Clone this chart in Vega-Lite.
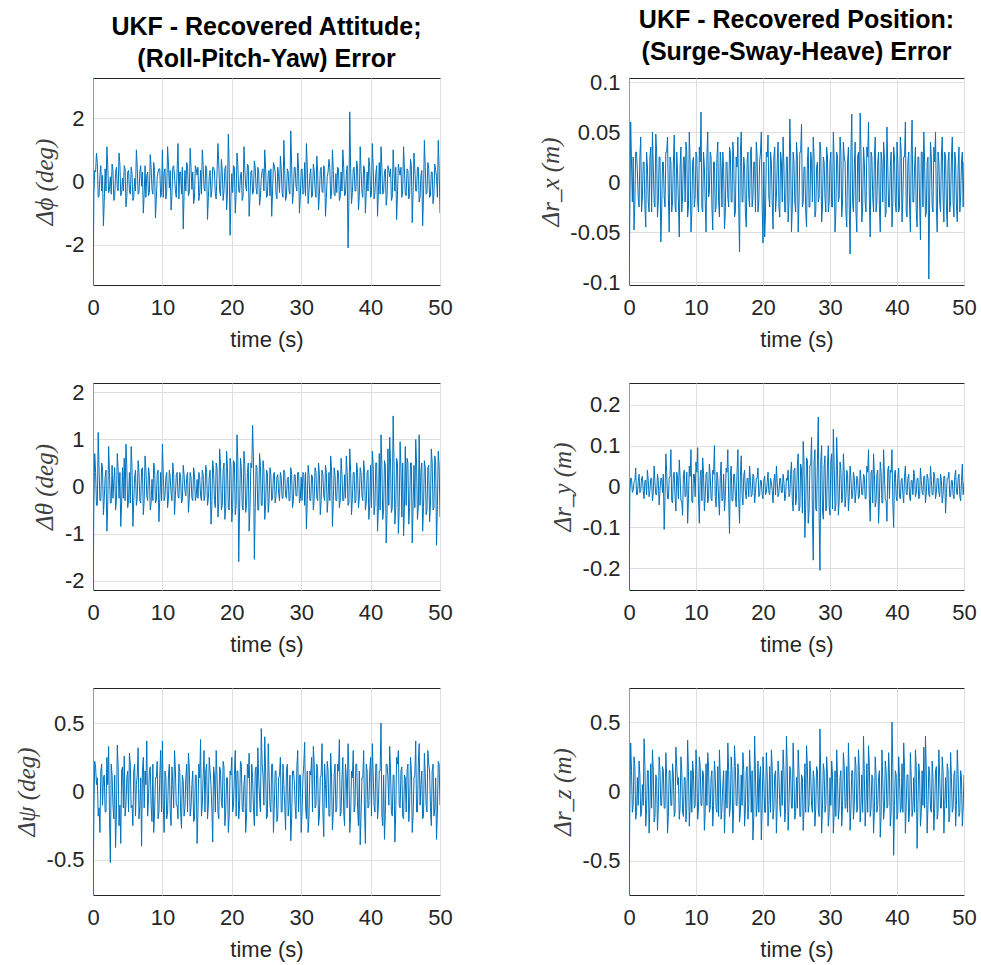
{
"$schema":"https://vega.github.io/schema/vega-lite/v6.json",
"background":"white",
"padding":{"left":13,"top":7,"right":5,"bottom":5},
"data":{"values":[
{"t":0,"a":3.27,"b":2.2,"c":0.757,"d":0.104,"e":0.253,"f":0.746},
{"t":0.03,"a":-3.27,"b":-2.2,"c":-0.757,"d":-0.103,"e":-0.253,"f":-0.746},
{"t":0.125,"a":-0.4,"b":-0.35,"c":-0.15,"d":-0.03,"e":-0.015,"f":-0.12},
{"t":0.25,"a":0.35,"b":0.7,"c":0.22,"d":0.06,"e":0.02,"f":0.35},
{"t":0.375,"a":0.3,"b":0.3,"c":0.18,"d":0.02,"e":0.02,"f":0.15},
{"t":0.5,"a":0.9,"b":-0.4,"c":0.05,"d":-0.02,"e":-0.015,"f":-0.15},
{"t":0.625,"a":0.6,"b":-0.4,"c":0.1,"d":0.025,"e":-0.01,"f":-0.1},
{"t":0.75,"a":-0.5,"b":1.15,"c":-0.18,"d":-0.048,"e":0.01,"f":0.25},
{"t":0.875,"a":-0.45,"b":0.35,"c":-0.12,"d":-0.02,"e":0.015,"f":0.18},
{"t":1.0,"a":0.2,"b":-0.3,"c":-0.3,"d":0.03,"e":0.045,"f":-0.2},
{"t":1.125,"a":0.5,"b":-0.3,"c":0.15,"d":0.03,"e":-0.02,"f":-0.15},
{"t":1.25,"a":-0.3,"b":0.5,"c":0.2,"d":0.01,"e":-0.02,"f":0.1},
{"t":1.375,"a":0.2,"b":0.4,"c":-0.1,"d":-0.015,"e":0.01,"f":-0.1},
{"t":1.5,"a":-1.4,"b":-0.6,"c":0.1,"d":-0.025,"e":0.03,"f":0.22},
{"t":1.625,"a":-0.6,"b":-0.25,"c":0.12,"d":0.025,"e":-0.015,"f":0.12},
{"t":1.75,"a":0.4,"b":0.2,"c":-0.15,"d":0.045,"e":-0.01,"f":-0.18},
{"t":1.875,"a":-0.3,"b":0.35,"c":-0.15,"d":-0.03,"e":0.02,"f":-0.15},
{"t":2.0,"a":1.1,"b":-0.95,"c":0.25,"d":-0.015,"e":0.025,"f":0.05},
{"t":2.125,"a":0.5,"b":-0.4,"c":0.05,"d":0.02,"e":-0.01,"f":-0.1},
{"t":2.25,"a":-0.35,"b":0.85,"c":0.33,"d":0.02,"e":-0.03,"f":0.38},
{"t":2.375,"a":-0.25,"b":0.3,"c":-0.18,"d":-0.025,"e":0.015,"f":0.18},
{"t":2.5,"a":0.15,"b":-0.35,"c":-0.52,"d":-0.045,"e":0.015,"f":-0.25},
{"t":2.625,"a":-0.4,"b":-0.35,"c":0.2,"d":0.03,"e":-0.02,"f":-0.12},
{"t":2.75,"a":0.55,"b":0.45,"c":0.12,"d":0.015,"e":0.04,"f":0.15},
{"t":2.875,"a":0.35,"b":-0.25,"c":-0.1,"d":-0.02,"e":0.015,"f":0.15},
{"t":3.0,"a":-0.6,"b":0.1,"c":-0.2,"d":-0.03,"e":-0.025,"f":-0.3},
{"t":3.125,"a":-0.5,"b":0.4,"c":0.12,"d":0.025,"e":-0.01,"f":-0.1},
{"t":3.25,"a":0.25,"b":-0.5,"c":-0.41,"d":0.035,"e":0.02,"f":0.2},
{"t":3.375,"a":0.45,"b":-0.3,"c":-0.15,"d":-0.03,"e":0.02,"f":-0.12},
{"t":3.5,"a":-0.2,"b":0.7,"c":0.34,"d":0.05,"e":-0.035,"f":0.3},
{"t":3.625,"a":-0.3,"b":0.35,"c":0.18,"d":0.015,"e":-0.015,"f":0.15},
{"t":3.75,"a":0.9,"b":-0.25,"c":-0.25,"d":-0.02,"e":0.05,"f":-0.22},
{"t":3.875,"a":0.55,"b":0.3,"c":-0.1,"d":-0.025,"e":0.01,"f":-0.18},
{"t":4.0,"a":-0.45,"b":-0.85,"c":-0.38,"d":0.048,"e":-0.02,"f":0.12},
{"t":4.125,"a":-0.35,"b":-0.35,"c":0.15,"d":0.03,"e":-0.02,"f":0.1},
{"t":4.25,"a":0.1,"b":0.4,"c":0.18,"d":-0.035,"e":0.03,"f":-0.28},
{"t":4.375,"a":-0.3,"b":-0.25,"c":-0.12,"d":-0.02,"e":0.015,"f":-0.12},
{"t":4.5,"a":0.5,"b":0.6,"c":0.26,"d":0.025,"e":-0.045,"f":0.25},
{"t":4.625,"a":0.4,"b":-0.3,"c":-0.18,"d":0.025,"e":-0.01,"f":0.15},
{"t":4.75,"a":-0.8,"b":0.9,"c":-0.1,"d":-0.06,"e":0.02,"f":-0.1},
{"t":4.875,"a":-0.5,"b":0.4,"c":0.1,"d":-0.03,"e":0.02,"f":-0.1},
{"t":5.0,"a":0.3,"b":-0.45,"c":0.15,"d":0.02,"e":-0.015,"f":0.18},
{"t":5.125,"a":0.35,"b":-0.3,"c":-0.15,"d":0.02,"e":0.03,"f":0.15},
{"t":5.25,"a":-0.3,"b":0.3,"c":0.28,"d":-0.015,"e":-0.105,"f":-0.12},
{"t":5.375,"a":-0.4,"b":-0.35,"c":0.2,"d":-0.025,"e":-0.025,"f":-0.12},
{"t":5.5,"a":0.45,"b":0.85,"c":-0.12,"d":0.03,"e":0.08,"f":0.28},
{"t":5.625,"a":0.25,"b":0.4,"c":-0.1,"d":0.03,"e":0.035,"f":0.1},
{"t":5.75,"a":-0.6,"b":-0.85,"c":-0.25,"d":0.045,"e":-0.03,"f":-0.3},
{"t":5.875,"a":-0.5,"b":-0.3,"c":0.15,"d":-0.015,"e":-0.03,"f":-0.18},
{"t":6.0,"a":0.1,"b":0.2,"c":0.2,"d":-0.05,"e":0.02,"f":0.15},
{"t":6.125,"a":-0.3,"b":0.35,"c":-0.18,"d":0.025,"e":0.025,"f":0.15},
{"t":6.25,"a":1.0,"b":-0.4,"c":0.05,"d":0.02,"e":0.09,"f":-0.1},
{"t":6.375,"a":0.45,"b":-0.25,"c":0.12,"d":-0.03,"e":-0.035,"f":-0.1},
{"t":6.5,"a":-0.4,"b":0.55,"c":0.32,"d":-0.02,"e":-0.04,"f":0.2},
{"t":6.625,"a":-0.35,"b":0.3,"c":-0.2,"d":0.02,"e":0.03,"f":0.12},
{"t":6.75,"a":0.3,"b":-0.3,"c":-0.1,"d":0.047,"e":0.035,"f":-0.18},
{"t":6.875,"a":0.5,"b":-0.35,"c":0.1,"d":-0.025,"e":-0.025,"f":-0.15},
{"t":7.0,"a":-0.15,"b":0.35,"c":-0.4,"d":-0.03,"e":-0.06,"f":0.32},
{"t":7.125,"a":0.3,"b":0.4,"c":0.15,"d":0.03,"e":0.035,"f":0.18},
{"t":7.25,"a":-1.0,"b":-0.6,"c":0.25,"d":0.01,"e":0.02,"f":0.05},
{"t":7.375,"a":-0.4,"b":-0.3,"c":-0.12,"d":-0.02,"e":-0.03,"f":0.1},
{"t":7.5,"a":0.5,"b":0.65,"c":0.15,"d":-0.055,"e":0.065,"f":-0.2},
{"t":7.625,"a":-0.5,"b":0.35,"c":0.05,"d":0.015,"e":0.025,"f":-0.12},
{"t":7.75,"a":0.2,"b":-0.2,"c":0.37,"d":0.035,"e":-0.035,"f":0.25},
{"t":7.875,"a":0.3,"b":-0.3,"c":-0.18,"d":-0.03,"e":-0.035,"f":0.15},
{"t":8.0,"a":-0.45,"b":0.4,"c":-0.05,"d":-0.015,"e":-0.07,"f":-0.15},
{"t":8.125,"a":-0.35,"b":0.25,"c":0.15,"d":0.025,"e":0.03,"f":-0.18},
{"t":8.25,"a":0.85,"b":-0.5,"c":0.18,"d":0.025,"e":0.04,"f":0.1},
{"t":8.375,"a":0.45,"b":-0.35,"c":-0.1,"d":-0.02,"e":-0.025,"f":0.1},
{"t":8.5,"a":-0.25,"b":0.15,"c":-0.22,"d":0.04,"e":-0.02,"f":-0.22},
{"t":8.625,"a":-0.4,"b":-0.3,"c":0.2,"d":0.03,"e":0.035,"f":-0.12},
{"t":8.75,"a":0.6,"b":0.5,"c":-0.3,"d":-0.035,"e":-0.09,"f":0.37},
{"t":8.875,"a":0.35,"b":0.4,"c":-0.15,"d":-0.025,"e":-0.03,"f":0.15},
{"t":9.0,"a":-1.15,"b":-0.35,"c":0.1,"d":0.05,"e":0.05,"f":-0.25},
{"t":9.125,"a":-0.55,"b":-0.3,"c":0.1,"d":0.02,"e":0.025,"f":-0.1},
{"t":9.25,"a":0.15,"b":0.25,"c":0.22,"d":-0.05,"e":0.09,"f":0.15},
{"t":9.375,"a":0.3,"b":0.35,"c":-0.2,"d":-0.03,"e":-0.035,"f":-0.15},
{"t":9.5,"a":0.4,"b":-0.75,"c":-0.15,"d":0.02,"e":-0.04,"f":0.22},
{"t":9.625,"a":0.4,"b":-0.25,"c":0.12,"d":0.025,"e":0.03,"f":0.12},
{"t":9.75,"a":-0.5,"b":0.3,"c":0.3,"d":-0.025,"e":0.03,"f":-0.12},
{"t":9.875,"a":-0.35,"b":-0.3,"c":-0.15,"d":-0.015,"e":-0.025,"f":-0.1},
{"t":10.0,"a":1.0,"b":0.9,"c":0.37,"d":0.03,"e":0.06,"f":0.3},
{"t":10.125,"a":-0.5,"b":0.25,"c":-0.1,"d":0.025,"e":0.035,"f":0.15},
{"t":10.25,"a":0.3,"b":-0.3,"c":-0.3,"d":-0.02,"e":0.095,"f":-0.2},
{"t":10.375,"a":0.4,"b":-0.2,"c":0.15,"d":-0.03,"e":-0.03,"f":-0.12},
{"t":10.5,"a":-0.55,"b":0.2,"c":0.1,"d":0.035,"e":-0.09,"f":0.25},
{"t":10.625,"a":-0.3,"b":0.3,"c":-0.2,"d":0.02,"e":0.025,"f":0.18},
{"t":10.75,"a":1.1,"b":-0.45,"c":-0.15,"d":0.07,"e":0.04,"f":-0.1},
{"t":10.875,"a":0.55,"b":-0.25,"c":0.12,"d":-0.025,"e":-0.035,"f":-0.1},
{"t":11.0,"a":-0.2,"b":0.35,"c":0.2,"d":-0.03,"e":0.07,"f":0.15},
{"t":11.125,"a":0.35,"b":0.2,"c":-0.15,"d":0.03,"e":0.03,"f":0.12},
{"t":11.25,"a":-0.9,"b":-0.15,"c":-0.25,"d":0.015,"e":-0.06,"f":-0.28},
{"t":11.375,"a":-0.45,"b":-0.3,"c":0.18,"d":-0.02,"e":-0.025,"f":-0.15},
{"t":11.5,"a":0.45,"b":0.5,"c":0.05,"d":-0.05,"e":0.03,"f":0.2},
{"t":11.625,"a":0.5,"b":0.25,"c":-0.12,"d":0.025,"e":0.035,"f":-0.1},
{"t":11.75,"a":0.15,"b":-0.6,"c":0.3,"d":0.05,"e":-0.04,"f":0.28},
{"t":11.875,"a":-0.3,"b":-0.2,"c":0.15,"d":-0.015,"e":-0.03,"f":0.18},
{"t":12.0,"a":-0.5,"b":0.25,"c":-0.1,"d":-0.01,"e":0.055,"f":-0.15},
{"t":12.125,"a":0.4,"b":0.3,"c":-0.1,"d":0.03,"e":0.025,"f":-0.12},
{"t":12.25,"a":1.2,"b":-0.2,"c":-0.2,"d":0.025,"e":-0.03,"f":0.1},
{"t":12.375,"a":-0.55,"b":-0.25,"c":0.2,"d":-0.025,"e":-0.035,"f":0.15},
{"t":12.5,"a":0.3,"b":0.3,"c":0.15,"d":-0.048,"e":0.04,"f":-0.25},
{"t":12.625,"a":0.3,"b":0.2,"c":-0.15,"d":0.02,"e":0.03,"f":-0.1},
{"t":12.75,"a":-0.4,"b":-0.35,"c":-0.27,"d":0.02,"e":0.1,"f":0.22},
{"t":12.875,"a":0.45,"b":-0.3,"c":0.12,"d":-0.03,"e":-0.025,"f":0.12},
{"t":13.0,"a":-1.5,"b":0.45,"c":0.08,"d":-0.025,"e":-0.05,"f":-0.12},
{"t":13.125,"a":-0.4,"b":0.25,"c":-0.18,"d":0.025,"e":0.035,"f":-0.15},
{"t":13.25,"a":0.35,"b":-0.1,"c":-0.12,"d":0.04,"e":0.02,"f":0.18},
{"t":13.375,"a":-0.3,"b":-0.2,"c":0.1,"d":-0.02,"e":-0.03,"f":-0.18},
{"t":13.5,"a":0.6,"b":0.2,"c":0.2,"d":-0.035,"e":-0.07,"f":0.3},
{"t":13.625,"a":0.5,"b":0.3,"c":-0.15,"d":0.03,"e":0.025,"f":0.1},
{"t":13.75,"a":-0.45,"b":-0.55,"c":0.28,"d":0.015,"e":0.06,"f":-0.2},
{"t":13.875,"a":-0.35,"b":-0.25,"c":0.18,"d":-0.025,"e":-0.035,"f":-0.12},
{"t":14.0,"a":1.05,"b":0.3,"c":-0.18,"d":0.03,"e":-0.03,"f":0.05},
{"t":14.125,"a":0.45,"b":0.2,"c":-0.12,"d":0.015,"e":0.03,"f":0.15},
{"t":14.25,"a":-0.25,"b":-0.25,"c":0.05,"d":-0.047,"e":-0.06,"f":-0.3},
{"t":14.375,"a":0.3,"b":-0.3,"c":0.15,"d":-0.03,"e":-0.025,"f":-0.1},
{"t":14.5,"a":-0.7,"b":0.4,"c":-0.22,"d":0.02,"e":0.045,"f":0.15},
{"t":14.625,"a":-0.5,"b":0.25,"c":-0.2,"d":0.02,"e":0.035,"f":-0.12},
{"t":14.75,"a":0.5,"b":-0.3,"c":0.12,"d":-0.015,"e":0.09,"f":0.35},
{"t":14.875,"a":0.4,"b":-0.2,"c":0.12,"d":-0.025,"e":-0.03,"f":0.15},
{"t":15.0,"a":0.2,"b":0.15,"c":-0.38,"d":0.035,"e":-0.115,"f":-0.18},
{"t":15.125,"a":0.45,"b":-0.25,"c":-0.15,"d":0.03,"e":0.025,"f":-0.1},
{"t":15.25,"a":-0.6,"b":0.3,"c":0.2,"d":-0.02,"e":0.05,"f":0.25},
{"t":15.375,"a":-0.35,"b":0.2,"c":0.1,"d":-0.02,"e":-0.035,"f":0.15},
{"t":15.5,"a":0.35,"b":-0.2,"c":0.38,"d":0.04,"e":-0.035,"f":-0.3},
{"t":15.625,"a":-0.4,"b":-0.3,"c":-0.18,"d":0.025,"e":0.03,"f":-0.12},
{"t":15.75,"a":1.0,"b":0.35,"c":-0.1,"d":-0.035,"e":0.03,"f":0.33},
{"t":15.875,"a":0.5,"b":0.25,"c":0.12,"d":-0.03,"e":-0.025,"f":0.18},
{"t":16.0,"a":-0.2,"b":-0.3,"c":0.3,"d":0.025,"e":-0.05,"f":-0.1},
{"t":16.125,"a":-0.3,"b":-0.2,"c":-0.15,"d":0.015,"e":0.035,"f":-0.1},
{"t":16.25,"a":0.5,"b":0.45,"c":0.15,"d":0.045,"e":0.09,"f":0.2},
{"t":16.375,"a":0.4,"b":0.3,"c":0.2,"d":-0.025,"e":-0.03,"f":0.12},
{"t":16.5,"a":-1.2,"b":-0.4,"c":-0.2,"d":-0.07,"e":-0.09,"f":-0.22},
{"t":16.625,"a":-0.5,"b":-0.25,"c":-0.1,"d":0.03,"e":0.025,"f":-0.15},
{"t":16.75,"a":0.15,"b":0.2,"c":0.25,"d":0.05,"e":0.075,"f":0.12},
{"t":16.875,"a":0.35,"b":0.35,"c":0.15,"d":-0.02,"e":-0.02,"f":-0.1},
{"t":17.0,"a":-0.5,"b":-0.8,"c":0.05,"d":-0.02,"e":-0.045,"f":0.28},
{"t":17.125,"a":-0.3,"b":-0.4,"c":-0.12,"d":0.025,"e":0.025,"f":0.15},
{"t":17.25,"a":0.45,"b":0.55,"c":-0.37,"d":0.015,"e":0.04,"f":-0.25},
{"t":17.375,"a":0.45,"b":0.35,"c":0.18,"d":-0.03,"e":-0.015,"f":-0.12},
{"t":17.5,"a":0.3,"b":-0.3,"c":0.12,"d":-0.045,"e":-0.03,"f":0.15},
{"t":17.625,"a":-0.4,"b":-0.45,"c":-0.15,"d":0.02,"e":0.02,"f":0.18},
{"t":17.75,"a":-0.55,"b":0.5,"c":0.3,"d":0.03,"e":0.02,"f":-0.2},
{"t":17.875,"a":0.3,"b":0.4,"c":0.1,"d":-0.015,"e":-0.025,"f":-0.1},
{"t":18.0,"a":1.2,"b":-0.65,"c":-0.15,"d":-0.025,"e":0.05,"f":0.3},
{"t":18.125,"a":0.55,"b":-0.35,"c":-0.2,"d":0.03,"e":0.015,"f":0.12},
{"t":18.25,"a":-0.3,"b":0.8,"c":0.18,"d":0.035,"e":-0.025,"f":-0.15},
{"t":18.375,"a":-0.45,"b":0.45,"c":0.15,"d":-0.025,"e":-0.02,"f":0.15},
{"t":18.5,"a":0.7,"b":-0.5,"c":-0.08,"d":-0.015,"e":0.03,"f":-0.35},
{"t":18.625,"a":0.35,"b":-0.4,"c":-0.12,"d":0.02,"e":0.025,"f":-0.18},
{"t":18.75,"a":-0.6,"b":0.35,"c":0.22,"d":0.02,"e":-0.04,"f":0.4},
{"t":18.875,"a":-0.3,"b":0.5,"c":0.18,"d":-0.03,"e":-0.015,"f":0.12},
{"t":19.0,"a":0.4,"b":-0.7,"c":-0.25,"d":0.04,"e":0.02,"f":-0.18},
{"t":19.125,"a":0.5,"b":-0.45,"c":-0.15,"d":0.025,"e":0.02,"f":-0.1},
{"t":19.25,"a":-0.9,"b":0.75,"c":0.1,"d":-0.03,"e":0.045,"f":0.22},
{"t":19.375,"a":-0.4,"b":0.4,"c":0.1,"d":-0.02,"e":-0.025,"f":-0.15},
{"t":19.5,"a":1.5,"b":-0.45,"c":-0.3,"d":0.02,"e":-0.02,"f":0.1},
{"t":19.625,"a":0.45,"b":-0.5,"c":-0.18,"d":0.03,"e":0.015,"f":0.18},
{"t":19.75,"a":-1.7,"b":0.6,"c":0.15,"d":0.05,"e":0.015,"f":-0.35},
{"t":19.875,"a":-0.5,"b":0.45,"c":0.12,"d":-0.025,"e":-0.02,"f":-0.12},
{"t":20.0,"a":0.25,"b":-0.75,"c":0.25,"d":-0.061,"e":-0.03,"f":0.25},
{"t":20.125,"a":-0.35,"b":-0.45,"c":-0.15,"d":0.02,"e":0.015,"f":0.1},
{"t":20.25,"a":0.5,"b":0.55,"c":-0.1,"d":-0.055,"e":0.025,"f":-0.15},
{"t":20.375,"a":0.45,"b":0.5,"c":0.12,"d":-0.03,"e":-0.02,"f":-0.15},
{"t":20.5,"a":-1.0,"b":-0.6,"c":0.3,"d":0.03,"e":-0.015,"f":0.28},
{"t":20.625,"a":-0.4,"b":-0.4,"c":-0.18,"d":0.025,"e":0.01,"f":0.12},
{"t":20.75,"a":0.9,"b":1.1,"c":0.15,"d":0.047,"e":0.035,"f":-0.25},
{"t":20.875,"a":0.5,"b":0.5,"c":0.15,"d":-0.015,"e":-0.015,"f":-0.1},
{"t":21.0,"a":-0.3,"b":-1.6,"c":-0.2,"d":-0.025,"e":-0.02,"f":0.18},
{"t":21.125,"a":-0.35,"b":-0.45,"c":-0.1,"d":0.03,"e":0.02,"f":-0.15},
{"t":21.25,"a":0.2,"b":0.6,"c":0.22,"d":0.02,"e":0.01,"f":0.3},
{"t":21.375,"a":0.3,"b":0.4,"c":0.2,"d":-0.02,"e":-0.01,"f":0.18},
{"t":21.5,"a":-0.6,"b":-0.4,"c":-0.12,"d":-0.047,"e":-0.04,"f":-0.2},
{"t":21.625,"a":-0.45,"b":-0.5,"c":-0.15,"d":0.025,"e":0.015,"f":-0.12},
{"t":21.75,"a":1.1,"b":0.75,"c":0.05,"d":0.035,"e":0.03,"f":0.12},
{"t":21.875,"a":0.4,"b":0.45,"c":0.12,"d":-0.03,"e":-0.02,"f":0.15},
{"t":22.0,"a":-0.15,"b":-0.55,"c":-0.3,"d":-0.015,"e":0.05,"f":-0.3},
{"t":22.125,"a":-0.3,"b":-0.4,"c":-0.18,"d":0.02,"e":0.01,"f":-0.1},
{"t":22.25,"a":0.55,"b":0.3,"c":0.2,"d":0.04,"e":-0.025,"f":0.22},
{"t":22.375,"a":0.5,"b":0.5,"c":0.1,"d":-0.025,"e":-0.015,"f":0.12},
{"t":22.5,"a":-1.1,"b":-0.95,"c":0.28,"d":-0.035,"e":0.02,"f":-0.1},
{"t":22.625,"a":-0.45,"b":-0.45,"c":-0.15,"d":0.03,"e":0.02,"f":-0.18},
{"t":22.75,"a":0.3,"b":0.5,"c":-0.15,"d":0.02,"e":-0.015,"f":0.15},
{"t":22.875,"a":0.35,"b":0.4,"c":0.2,"d":-0.02,"e":-0.015,"f":-0.1},
{"t":23.0,"a":-0.4,"b":1.3,"c":0.1,"d":0.045,"e":0.03,"f":0.3},
{"t":23.125,"a":-0.3,"b":0.5,"c":-0.12,"d":0.015,"e":0.01,"f":0.15},
{"t":23.25,"a":0.65,"b":-1.55,"c":-0.25,"d":-0.03,"e":-0.035,"f":-0.22},
{"t":23.375,"a":0.45,"b":-0.45,"c":0.15,"d":-0.03,"e":-0.02,"f":-0.12},
{"t":23.5,"a":-0.2,"b":0.45,"c":0.18,"d":0.025,"e":0.02,"f":0.4},
{"t":23.625,"a":-0.4,"b":0.4,"c":-0.18,"d":0.025,"e":0.015,"f":0.18},
{"t":23.75,"a":0.45,"b":-0.5,"c":0.32,"d":-0.04,"e":0.04,"f":-0.28},
{"t":23.875,"a":0.3,"b":-0.5,"c":0.1,"d":-0.02,"e":-0.025,"f":-0.1},
{"t":24.0,"a":-0.75,"b":0.7,"c":-0.05,"d":0.063,"e":-0.02,"f":0.18},
{"t":24.125,"a":-0.5,"b":0.45,"c":-0.15,"d":0.03,"e":0.03,"f":0.15},
{"t":24.25,"a":0.1,"b":-0.4,"c":0.46,"d":-0.05,"e":0.06,"f":-0.12},
{"t":24.375,"a":0.35,"b":-0.4,"c":0.2,"d":-0.025,"e":-0.035,"f":-0.12},
{"t":24.5,"a":0.4,"b":0.55,"c":0.12,"d":0.03,"e":-0.06,"f":0.35},
{"t":24.625,"a":-0.3,"b":0.35,"c":-0.1,"d":0.02,"e":0.04,"f":0.1},
{"t":24.75,"a":1.0,"b":-0.7,"c":0.4,"d":-0.02,"e":0.045,"f":-0.2},
{"t":24.875,"a":0.4,"b":-0.4,"c":0.15,"d":-0.03,"e":-0.045,"f":-0.15},
{"t":25.0,"a":-0.5,"b":0.35,"c":-0.2,"d":0.04,"e":-0.03,"f":0.1},
{"t":25.125,"a":-0.45,"b":0.3,"c":-0.18,"d":0.025,"e":0.05,"f":-0.12},
{"t":25.25,"a":0.25,"b":-0.55,"c":0.35,"d":-0.05,"e":0.08,"f":0.3},
{"t":25.375,"a":0.35,"b":-0.3,"c":0.12,"d":-0.02,"e":-0.06,"f":0.15},
{"t":25.5,"a":-0.45,"b":0.4,"c":-0.1,"d":0.03,"e":-0.05,"f":-0.18},
{"t":25.625,"a":0.4,"b":0.25,"c":-0.15,"d":0.03,"e":0.055,"f":-0.18},
{"t":25.75,"a":-1.1,"b":-0.3,"c":0.2,"d":0.058,"e":0.04,"f":0.12},
{"t":25.875,"a":-0.3,"b":-0.25,"c":0.2,"d":-0.025,"e":-0.065,"f":0.1},
{"t":26.0,"a":0.6,"b":0.25,"c":-0.3,"d":-0.02,"e":0.11,"f":-0.28},
{"t":26.125,"a":0.5,"b":0.3,"c":-0.1,"d":0.015,"e":0.06,"f":-0.12},
{"t":26.25,"a":0.3,"b":-0.35,"c":0.15,"d":0.015,"e":-0.125,"f":0.2},
{"t":26.375,"a":-0.4,"b":-0.2,"c":0.15,"d":-0.03,"e":-0.05,"f":-0.15},
{"t":26.5,"a":-0.55,"b":0.2,"c":-0.22,"d":-0.045,"e":0.07,"f":0.33},
{"t":26.625,"a":0.45,"b":0.25,"c":-0.18,"d":0.02,"e":0.065,"f":0.18},
{"t":26.75,"a":0.15,"b":-0.15,"c":0.1,"d":0.035,"e":-0.09,"f":-0.15},
{"t":26.875,"a":-0.35,"b":-0.3,"c":0.12,"d":-0.025,"e":-0.06,"f":-0.1},
{"t":27.0,"a":0.8,"b":0.3,"c":0.25,"d":-0.025,"e":0.05,"f":0.22},
{"t":27.125,"a":0.4,"b":0.2,"c":-0.15,"d":0.03,"e":0.055,"f":0.12},
{"t":27.25,"a":-0.35,"b":-0.25,"c":-0.15,"d":0.02,"e":0.12,"f":-0.1},
{"t":27.375,"a":-0.5,"b":-0.25,"c":0.2,"d":-0.02,"e":-0.07,"f":-0.15},
{"t":27.5,"a":1.3,"b":0.35,"c":0.05,"d":0.045,"e":-0.18,"f":0.15},
{"t":27.625,"a":0.35,"b":0.3,"c":-0.1,"d":0.025,"e":0.06,"f":0.1},
{"t":27.75,"a":-0.6,"b":-0.2,"c":-0.28,"d":-0.035,"e":0.09,"f":-0.25},
{"t":27.875,"a":-0.45,"b":-0.25,"c":0.15,"d":-0.03,"e":-0.055,"f":-0.12},
{"t":28.0,"a":0.4,"b":0.15,"c":0.2,"d":0.015,"e":-0.06,"f":0.18},
{"t":28.125,"a":0.3,"b":0.2,"c":-0.18,"d":0.02,"e":0.065,"f":0.15},
{"t":28.25,"a":-0.3,"b":-0.3,"c":-0.1,"d":-0.02,"e":0.17,"f":-0.12},
{"t":28.375,"a":-0.4,"b":-0.3,"c":0.12,"d":-0.015,"e":-0.07,"f":-0.18},
{"t":28.5,"a":1.6,"b":0.4,"c":-0.36,"d":0.04,"e":-0.205,"f":0.45},
{"t":28.625,"a":0.5,"b":0.25,"c":-0.2,"d":0.03,"e":0.06,"f":0.1},
{"t":28.75,"a":-0.7,"b":-0.45,"c":0.15,"d":-0.04,"e":0.1,"f":-0.3},
{"t":28.875,"a":-0.35,"b":-0.3,"c":0.15,"d":-0.025,"e":-0.055,"f":-0.12},
{"t":29.0,"a":0.45,"b":0.25,"c":0.08,"d":0.025,"e":-0.08,"f":0.2},
{"t":29.125,"a":0.45,"b":0.25,"c":-0.1,"d":0.02,"e":0.05,"f":0.15},
{"t":29.25,"a":-0.15,"b":-0.2,"c":-0.2,"d":-0.015,"e":0.075,"f":-0.15},
{"t":29.375,"a":-0.3,"b":-0.2,"c":0.18,"d":-0.03,"e":-0.06,"f":-0.1},
{"t":29.5,"a":0.9,"b":0.3,"c":0.3,"d":0.035,"e":-0.05,"f":0.25},
{"t":29.625,"a":0.4,"b":0.3,"c":-0.15,"d":0.025,"e":0.055,"f":0.12},
{"t":29.75,"a":-1.0,"b":-0.35,"c":0.12,"d":-0.03,"e":0.1,"f":-0.25},
{"t":29.875,"a":-0.45,"b":-0.25,"c":0.12,"d":-0.02,"e":-0.05,"f":-0.15},
{"t":30.0,"a":0.35,"b":0.2,"c":-0.3,"d":0.02,"e":-0.07,"f":0.1},
{"t":30.125,"a":0.4,"b":-0.3,"c":-0.15,"d":0.03,"e":0.06,"f":-0.1},
{"t":30.25,"a":-0.4,"b":0.3,"c":0.1,"d":-0.025,"e":0.08,"f":0.22},
{"t":30.375,"a":-0.35,"b":0.25,"c":0.2,"d":-0.025,"e":-0.055,"f":0.12},
{"t":30.5,"a":0.6,"b":-0.4,"c":0.36,"d":0.05,"e":0.14,"f":-0.3},
{"t":30.625,"a":-0.45,"b":0.3,"c":-0.1,"d":0.02,"e":0.05,"f":-0.15},
{"t":30.75,"a":1.2,"b":-0.9,"c":-0.2,"d":-0.05,"e":-0.06,"f":0.15},
{"t":30.875,"a":0.5,"b":-0.3,"c":0.15,"d":-0.03,"e":-0.045,"f":-0.18},
{"t":31.0,"a":-0.7,"b":0.45,"c":-0.3,"d":0.03,"e":0.12,"f":0.3},
{"t":31.125,"a":-0.3,"b":0.25,"c":-0.18,"d":0.025,"e":0.04,"f":0.1},
{"t":31.25,"a":0.2,"b":-0.3,"c":0.15,"d":-0.02,"e":-0.07,"f":-0.2},
{"t":31.375,"a":0.4,"b":-0.3,"c":0.12,"d":-0.015,"e":-0.035,"f":-0.12},
{"t":31.5,"a":-0.5,"b":0.25,"c":0.25,"d":0.045,"e":0.06,"f":0.1},
{"t":31.625,"a":-0.45,"b":0.2,"c":-0.15,"d":0.03,"e":0.04,"f":0.15},
{"t":31.75,"a":0.55,"b":-0.5,"c":0.33,"d":-0.035,"e":-0.04,"f":-0.25},
{"t":31.875,"a":0.35,"b":-0.25,"c":0.2,"d":-0.02,"e":-0.03,"f":-0.1},
{"t":32.0,"a":-0.25,"b":0.4,"c":-0.12,"d":0.04,"e":0.08,"f":0.28},
{"t":32.125,"a":-0.5,"b":0.3,"c":-0.1,"d":0.025,"e":0.035,"f":0.18},
{"t":32.25,"a":0.8,"b":-0.25,"c":0.2,"d":0.02,"e":-0.05,"f":-0.12},
{"t":32.375,"a":0.3,"b":-0.3,"c":0.15,"d":-0.03,"e":-0.025,"f":-0.12},
{"t":32.5,"a":-0.9,"b":0.5,"c":-0.25,"d":-0.045,"e":0.04,"f":0.18},
{"t":32.625,"a":-0.4,"b":0.25,"c":-0.18,"d":0.02,"e":0.03,"f":-0.15},
{"t":32.75,"a":0.35,"b":-0.6,"c":0.1,"d":0.035,"e":-0.06,"f":0.35},
{"t":32.875,"a":0.45,"b":-0.3,"c":0.12,"d":-0.025,"e":-0.025,"f":0.1},
{"t":33.0,"a":-0.3,"b":0.35,"c":0.35,"d":-0.072,"e":0.05,"f":-0.28},
{"t":33.125,"a":-0.35,"b":0.25,"c":-0.15,"d":0.03,"e":0.02,"f":-0.12},
{"t":33.25,"a":0.5,"b":-0.2,"c":-0.33,"d":0.068,"e":-0.03,"f":0.15},
{"t":33.375,"a":0.4,"b":-0.3,"c":0.2,"d":-0.02,"e":-0.025,"f":0.15},
{"t":33.5,"a":-1.1,"b":0.45,"c":0.05,"d":-0.03,"e":0.035,"f":-0.2},
{"t":33.625,"a":-0.5,"b":0.3,"c":-0.12,"d":0.015,"e":0.02,"f":-0.1},
{"t":33.75,"a":0.15,"b":-0.55,"c":0.22,"d":0.04,"e":-0.04,"f":0.25},
{"t":33.875,"a":0.3,"b":-0.25,"c":0.15,"d":-0.03,"e":-0.015,"f":0.18},
{"t":34.0,"a":0.7,"b":0.3,"c":-0.18,"d":-0.05,"e":0.025,"f":-0.15},
{"t":34.125,"a":0.45,"b":-0.3,"c":-0.18,"d":0.025,"e":0.02,"f":-0.12},
{"t":34.25,"a":-0.55,"b":0.65,"c":0.28,"d":0.03,"e":-0.03,"f":0.3},
{"t":34.375,"a":-0.4,"b":0.35,"c":0.1,"d":-0.02,"e":-0.025,"f":0.15},
{"t":34.5,"a":1.0,"b":-0.85,"c":-0.28,"d":0.069,"e":0.04,"f":-0.22},
{"t":34.625,"a":0.35,"b":-0.3,"c":-0.15,"d":0.03,"e":0.015,"f":-0.1},
{"t":34.75,"a":-0.4,"b":0.4,"c":0.12,"d":-0.04,"e":-0.02,"f":0.12},
{"t":34.875,"a":-0.45,"b":0.25,"c":0.2,"d":-0.025,"e":-0.02,"f":-0.15},
{"t":35.0,"a":0.25,"b":-0.3,"c":-0.15,"d":0.035,"e":0.03,"f":0.4},
{"t":35.125,"a":-0.35,"b":-0.3,"c":-0.12,"d":0.02,"e":0.025,"f":0.12},
{"t":35.25,"a":0.45,"b":0.35,"c":0.2,"d":-0.02,"e":-0.03,"f":-0.25},
{"t":35.375,"a":0.4,"b":0.3,"c":0.15,"d":-0.03,"e":-0.03,"f":-0.1},
{"t":35.5,"a":-0.6,"b":-0.45,"c":0.38,"d":0.035,"e":0.05,"f":0.2},
{"t":35.625,"a":-0.5,"b":-0.3,"c":-0.18,"d":0.025,"e":0.035,"f":-0.15},
{"t":35.75,"a":0.3,"b":0.6,"c":-0.15,"d":0.06,"e":0.09,"f":0.33},
{"t":35.875,"a":-0.3,"b":0.25,"c":0.1,"d":-0.02,"e":-0.03,"f":0.18},
{"t":36.0,"a":1.0,"b":-0.3,"c":0.25,"d":-0.055,"e":-0.085,"f":-0.18},
{"t":36.125,"a":0.45,"b":-0.3,"c":-0.15,"d":0.03,"e":0.035,"f":-0.12},
{"t":36.25,"a":-0.45,"b":0.25,"c":-0.25,"d":0.025,"e":0.04,"f":0.12},
{"t":36.375,"a":-0.4,"b":-0.25,"c":0.2,"d":-0.015,"e":-0.04,"f":0.1},
{"t":36.5,"a":0.2,"b":0.65,"c":0.1,"d":-0.03,"e":0.08,"f":-0.3},
{"t":36.625,"a":0.5,"b":0.3,"c":-0.12,"d":0.025,"e":0.03,"f":-0.15},
{"t":36.75,"a":-2.1,"b":-0.4,"c":0.35,"d":0.045,"e":-0.05,"f":0.25},
{"t":36.875,"a":-0.6,"b":-0.35,"c":0.15,"d":-0.03,"e":-0.035,"f":0.12},
{"t":37.0,"a":2.2,"b":0.8,"c":-0.3,"d":-0.02,"e":0.03,"f":-0.15},
{"t":37.125,"a":0.4,"b":0.3,"c":-0.18,"d":0.02,"e":0.04,"f":-0.1},
{"t":37.25,"a":-0.7,"b":-0.6,"c":0.15,"d":0.03,"e":-0.09,"f":0.1},
{"t":37.375,"a":-0.35,"b":-0.25,"c":0.1,"d":-0.025,"e":-0.03,"f":0.15},
{"t":37.5,"a":0.4,"b":0.3,"c":0.3,"d":-0.05,"e":0.06,"f":-0.33},
{"t":37.625,"a":0.45,"b":0.3,"c":-0.15,"d":0.03,"e":0.035,"f":-0.18},
{"t":37.75,"a":-0.3,"b":-0.35,"c":-0.1,"d":0.02,"e":-0.04,"f":0.3},
{"t":37.875,"a":-0.3,"b":-0.3,"c":0.2,"d":-0.02,"e":-0.04,"f":0.1},
{"t":38.0,"a":0.65,"b":0.5,"c":0.2,"d":0.04,"e":0.09,"f":-0.2},
{"t":38.125,"a":0.4,"b":0.3,"c":-0.12,"d":0.025,"e":0.03,"f":-0.12},
{"t":38.25,"a":-0.9,"b":-0.45,"c":-0.25,"d":-0.035,"e":-0.03,"f":0.22},
{"t":38.375,"a":-0.45,"b":-0.25,"c":0.15,"d":-0.03,"e":-0.035,"f":0.15},
{"t":38.5,"a":1.1,"b":0.4,"c":-0.39,"d":0.055,"e":-0.085,"f":-0.12},
{"t":38.625,"a":0.35,"b":0.3,"c":-0.18,"d":0.015,"e":0.04,"f":-0.1},
{"t":38.75,"a":-0.35,"b":-0.2,"c":0.1,"d":-0.025,"e":0.05,"f":0.28},
{"t":38.875,"a":-0.5,"b":-0.3,"c":0.1,"d":-0.025,"e":-0.03,"f":0.12},
{"t":39.0,"a":0.5,"b":0.55,"c":0.3,"d":0.015,"e":0.04,"f":-0.25},
{"t":39.125,"a":0.4,"b":0.3,"c":-0.15,"d":0.03,"e":0.035,"f":-0.15},
{"t":39.25,"a":-1.0,"b":-0.5,"c":-0.38,"d":-0.045,"e":0.09,"f":0.5},
{"t":39.375,"a":-0.35,"b":-0.35,"c":0.2,"d":-0.02,"e":-0.04,"f":0.18},
{"t":39.5,"a":0.3,"b":0.3,"c":0.15,"d":0.035,"e":-0.1,"f":-0.46},
{"t":39.625,"a":-0.3,"b":0.35,"c":-0.12,"d":0.025,"e":0.03,"f":-0.1},
{"t":39.75,"a":0.75,"b":-0.7,"c":-0.1,"d":-0.02,"e":0.04,"f":0.15},
{"t":39.875,"a":0.45,"b":-0.4,"c":0.15,"d":-0.03,"e":-0.025,"f":0.12},
{"t":40.0,"a":-0.5,"b":0.45,"c":0.25,"d":0.04,"e":-0.035,"f":-0.2},
{"t":40.125,"a":-0.4,"b":-0.45,"c":-0.18,"d":0.02,"e":0.02,"f":-0.15},
{"t":40.25,"a":1.2,"b":0.75,"c":0.35,"d":-0.03,"e":0.045,"f":0.25},
{"t":40.375,"a":0.45,"b":0.45,"c":0.12,"d":-0.025,"e":-0.025,"f":0.1},
{"t":40.5,"a":-0.55,"b":-0.6,"c":-0.1,"d":0.045,"e":-0.03,"f":-0.15},
{"t":40.625,"a":-0.35,"b":-0.4,"c":-0.15,"d":0.03,"e":0.015,"f":-0.12},
{"t":40.75,"a":0.25,"b":0.5,"c":0.2,"d":-0.04,"e":0.02,"f":0.2},
{"t":40.875,"a":0.5,"b":0.5,"c":0.2,"d":-0.015,"e":-0.02,"f":-0.15},
{"t":41.0,"a":-1.1,"b":-0.95,"c":-0.2,"d":0.025,"e":-0.04,"f":0.35},
{"t":41.125,"a":-0.3,"b":-0.45,"c":-0.1,"d":0.025,"e":0.025,"f":0.18},
{"t":41.25,"a":0.6,"b":0.7,"c":0.15,"d":0.06,"e":0.05,"f":-0.3},
{"t":41.375,"a":-0.4,"b":-0.5,"c":0.15,"d":-0.03,"e":-0.015,"f":-0.1},
{"t":41.5,"a":1.1,"b":1.1,"c":0.5,"d":-0.035,"e":-0.02,"f":0.12},
{"t":41.625,"a":0.45,"b":0.45,"c":-0.18,"d":0.02,"e":0.02,"f":0.12},
{"t":41.75,"a":-0.4,"b":-0.7,"c":-0.25,"d":0.03,"e":0.03,"f":-0.22},
{"t":41.875,"a":-0.35,"b":-0.5,"c":0.12,"d":-0.025,"e":-0.025,"f":-0.15},
{"t":42.0,"a":0.3,"b":0.55,"c":-0.35,"d":-0.05,"e":-0.035,"f":0.28},
{"t":42.125,"a":0.4,"b":0.45,"c":-0.15,"d":0.03,"e":0.015,"f":0.1},
{"t":42.25,"a":-0.75,"b":-1.2,"c":0.2,"d":0.062,"e":0.015,"f":-0.18},
{"t":42.375,"a":-0.45,"b":-0.5,"c":0.2,"d":-0.02,"e":-0.02,"f":-0.12},
{"t":42.5,"a":0.5,"b":0.8,"c":0.1,"d":-0.02,"e":0.04,"f":0.1},
{"t":42.625,"a":0.35,"b":-0.4,"c":-0.1,"d":0.015,"e":0.025,"f":-0.15},
{"t":42.75,"a":0.15,"b":1.05,"c":0.33,"d":0.035,"e":-0.025,"f":0.3},
{"t":42.875,"a":0.4,"b":0.5,"c":0.15,"d":-0.03,"e":-0.015,"f":0.18},
{"t":43.0,"a":-0.6,"b":-0.55,"c":-0.15,"d":-0.045,"e":0.02,"f":-0.41},
{"t":43.125,"a":-0.5,"b":-0.45,"c":-0.18,"d":0.025,"e":0.02,"f":-0.1},
{"t":43.25,"a":1.0,"b":1.5,"c":0.12,"d":0.025,"e":-0.03,"f":0.2},
{"t":43.375,"a":0.3,"b":0.5,"c":0.12,"d":-0.02,"e":-0.025,"f":0.12},
{"t":43.5,"a":-0.3,"b":-0.8,"c":-0.37,"d":-0.058,"e":0.045,"f":-0.25},
{"t":43.625,"a":0.45,"b":-0.45,"c":-0.15,"d":0.03,"e":0.015,"f":-0.15},
{"t":43.75,"a":-1.2,"b":0.6,"c":0.25,"d":0.03,"e":-0.015,"f":0.15},
{"t":43.875,"a":-0.4,"b":0.5,"c":0.2,"d":-0.025,"e":-0.02,"f":-0.1},
{"t":44.0,"a":0.55,"b":-1.0,"c":0.3,"d":0.05,"e":0.025,"f":0.32},
{"t":44.125,"a":0.35,"b":-0.45,"c":-0.1,"d":0.02,"e":0.025,"f":-0.12},
{"t":44.25,"a":0.2,"b":0.95,"c":-0.12,"d":-0.035,"e":-0.04,"f":0.4},
{"t":44.375,"a":0.45,"b":0.4,"c":0.15,"d":-0.03,"e":-0.015,"f":0.15},
{"t":44.5,"a":-0.5,"b":-0.65,"c":0.18,"d":0.02,"e":0.03,"f":-0.3},
{"t":44.625,"a":-0.3,"b":0.5,"c":-0.18,"d":0.025,"e":0.02,"f":-0.1},
{"t":44.75,"a":1.1,"b":-1.05,"c":-0.2,"d":-0.097,"e":-0.02,"f":0.18},
{"t":44.875,"a":0.4,"b":-0.45,"c":0.12,"d":-0.015,"e":-0.025,"f":0.12},
{"t":45.0,"a":-0.4,"b":0.85,"c":0.1,"d":0.04,"e":0.05,"f":-0.12},
{"t":45.125,"a":-0.45,"b":-0.4,"c":-0.15,"d":0.025,"e":0.015,"f":-0.15},
{"t":45.25,"a":0.4,"b":0.6,"c":0.15,"d":-0.025,"e":-0.02,"f":0.22},
{"t":45.375,"a":0.35,"b":0.5,"c":0.2,"d":-0.03,"e":-0.02,"f":0.1},
{"t":45.5,"a":-0.55,"b":-0.8,"c":-0.22,"d":0.035,"e":0.035,"f":-0.28},
{"t":45.625,"a":-0.4,"b":-0.45,"c":-0.1,"d":0.02,"e":0.025,"f":-0.12},
{"t":45.75,"a":0.7,"b":0.5,"c":0.25,"d":0.05,"e":-0.03,"f":0.15},
{"t":45.875,"a":0.5,"b":0.5,"c":0.15,"d":-0.025,"e":-0.015,"f":0.18},
{"t":46.0,"a":-1.3,"b":-1.2,"c":-0.3,"d":-0.05,"e":0.02,"f":-0.2},
{"t":46.125,"a":-0.35,"b":-0.4,"c":-0.18,"d":0.03,"e":0.02,"f":-0.15},
{"t":46.25,"a":0.9,"b":0.45,"c":0.1,"d":0.02,"e":-0.015,"f":0.3},
{"t":46.375,"a":0.4,"b":-0.45,"c":0.12,"d":-0.02,"e":-0.025,"f":0.1},
{"t":46.5,"a":-0.3,"b":1.0,"c":0.37,"d":-0.03,"e":0.03,"f":-0.12},
{"t":46.625,"a":-0.3,"b":0.5,"c":-0.15,"d":0.025,"e":0.015,"f":-0.12},
{"t":46.75,"a":0.45,"b":-0.7,"c":-0.15,"d":0.045,"e":-0.04,"f":0.25},
{"t":46.875,"a":0.45,"b":-0.45,"c":0.2,"d":-0.015,"e":-0.02,"f":0.15},
{"t":47.0,"a":-0.65,"b":1.1,"c":0.35,"d":-0.04,"e":0.025,"f":-0.3},
{"t":47.125,"a":-0.5,"b":-0.4,"c":-0.1,"d":0.03,"e":0.025,"f":-0.1},
{"t":47.25,"a":0.2,"b":0.3,"c":0.05,"d":0.025,"e":-0.065,"f":0.1},
{"t":47.375,"a":0.35,"b":0.5,"c":0.15,"d":-0.025,"e":-0.015,"f":-0.12},
{"t":47.5,"a":-1.4,"b":-0.95,"c":-0.2,"d":-0.045,"e":0.02,"f":0.2},
{"t":47.625,"a":-0.4,"b":-0.45,"c":-0.18,"d":0.02,"e":0.02,"f":0.15},
{"t":47.75,"a":1.3,"b":0.55,"c":0.28,"d":0.03,"e":0.035,"f":-0.22},
{"t":47.875,"a":0.45,"b":0.4,"c":0.12,"d":-0.03,"e":-0.025,"f":-0.18},
{"t":48.0,"a":-0.4,"b":-0.6,"c":-0.1,"d":-0.02,"e":-0.025,"f":0.28},
{"t":48.125,"a":-0.35,"b":-0.5,"c":-0.15,"d":0.025,"e":0.015,"f":0.1},
{"t":48.25,"a":0.6,"b":0.4,"c":0.3,"d":0.045,"e":0.015,"f":-0.15},
{"t":48.375,"a":0.4,"b":0.45,"c":0.2,"d":-0.02,"e":-0.02,"f":-0.12},
{"t":48.5,"a":-0.5,"b":-0.75,"c":0.15,"d":-0.035,"e":-0.03,"f":0.12},
{"t":48.625,"a":-0.45,"b":-0.4,"c":-0.12,"d":0.03,"e":0.025,"f":0.15},
{"t":48.75,"a":0.3,"b":0.8,"c":-0.25,"d":0.02,"e":0.04,"f":-0.25},
{"t":48.875,"a":0.3,"b":0.5,"c":0.15,"d":-0.025,"e":-0.015,"f":-0.1},
{"t":49.0,"a":-0.7,"b":-0.5,"c":0.2,"d":-0.04,"e":-0.02,"f":0.3},
{"t":49.125,"a":-0.4,"b":-0.45,"c":-0.18,"d":0.015,"e":0.02,"f":0.12},
{"t":49.25,"a":0.55,"b":0.65,"c":-0.12,"d":0.035,"e":0.03,"f":-0.18},
{"t":49.375,"a":0.35,"b":0.5,"c":0.1,"d":-0.03,"e":-0.025,"f":-0.15},
{"t":49.5,"a":0.15,"b":-1.25,"c":-0.35,"d":-0.015,"e":-0.035,"f":0.15},
{"t":49.625,"a":-0.5,"b":-0.4,"c":-0.15,"d":0.02,"e":0.015,"f":0.1},
{"t":49.75,"a":1.3,"b":0.75,"c":0.22,"d":0.03,"e":0.055,"f":-0.25},
{"t":49.875,"a":0.4,"b":0.45,"c":0.2,"d":-0.025,"e":-0.02,"f":-0.12},
{"t":50.0,"a":-1.0,"b":-0.65,"c":-0.1,"d":0.02,"e":0.01,"f":0.12}
]},
"columns":2,
"spacing":{"column":189,"row":98},
"bounds":"flush",
"concat":[
{"width":347,"height":207,
 "title":{"text":["UKF - Recovered Attitude;","(Roll-Pitch-Yaw) Error"]},
 "mark":{"type":"line","color":"#0072BD","strokeWidth":1,"clip":true},
 "encoding":{
  "x":{"field":"t","type":"quantitative","scale":{"domain":[0,50],"nice":false,"zero":false},"axis":{"values":[0,10,20,30,40,50],"title":"time (s)"}},
  "y":{"field":"a","type":"quantitative","scale":{"domain":[-3.27,3.27],"nice":false,"zero":false},"axis":{"values":[-2,0,2],"title":"Δϕ (deg)","titleX":-49}}}},
{"width":335,"height":207,
 "title":{"text":["UKF - Recovered Position:","(Surge-Sway-Heave) Error"]},
 "mark":{"type":"line","color":"#0072BD","strokeWidth":1,"clip":true},
 "encoding":{
  "x":{"field":"t","type":"quantitative","scale":{"domain":[0,50],"nice":false,"zero":false},"axis":{"values":[0,10,20,30,40,50],"title":"time (s)"}},
  "y":{"field":"d","type":"quantitative","scale":{"domain":[-0.103,0.104],"nice":false,"zero":false},"axis":{"values":[-0.1,-0.05,0,0.05,0.1],"title":"Δr_x (m)","titleX":-79}}}},
{"width":347,"height":207,
 "mark":{"type":"line","color":"#0072BD","strokeWidth":1,"clip":true},
 "encoding":{
  "x":{"field":"t","type":"quantitative","scale":{"domain":[0,50],"nice":false,"zero":false},"axis":{"values":[0,10,20,30,40,50],"title":"time (s)"}},
  "y":{"field":"b","type":"quantitative","scale":{"domain":[-2.2,2.2],"nice":false,"zero":false},"axis":{"values":[-2,-1,0,1,2],"title":"Δθ (deg)","titleX":-49}}}},
{"width":335,"height":207,
 "mark":{"type":"line","color":"#0072BD","strokeWidth":1,"clip":true},
 "encoding":{
  "x":{"field":"t","type":"quantitative","scale":{"domain":[0,50],"nice":false,"zero":false},"axis":{"values":[0,10,20,30,40,50],"title":"time (s)"}},
  "y":{"field":"e","type":"quantitative","scale":{"domain":[-0.253,0.253],"nice":false,"zero":false},"axis":{"values":[-0.2,-0.1,0,0.1,0.2],"title":"Δr_y (m)","titleX":-67}}}},
{"width":347,"height":207,
 "mark":{"type":"line","color":"#0072BD","strokeWidth":1,"clip":true},
 "encoding":{
  "x":{"field":"t","type":"quantitative","scale":{"domain":[0,50],"nice":false,"zero":false},"axis":{"values":[0,10,20,30,40,50],"title":"time (s)"}},
  "y":{"field":"c","type":"quantitative","scale":{"domain":[-0.757,0.757],"nice":false,"zero":false},"axis":{"values":[-0.5,0,0.5],"title":"Δψ (deg)","titleX":-67}}}},
{"width":335,"height":207,
 "mark":{"type":"line","color":"#0072BD","strokeWidth":1,"clip":true},
 "encoding":{
  "x":{"field":"t","type":"quantitative","scale":{"domain":[0,50],"nice":false,"zero":false},"axis":{"values":[0,10,20,30,40,50],"title":"time (s)"}},
  "y":{"field":"f","type":"quantitative","scale":{"domain":[-0.746,0.746],"nice":false,"zero":false},"axis":{"values":[-0.5,0,0.5],"title":"Δr_z (m)","titleX":-67}}}}
],
"config":{
 "view":{"stroke":"#262626","strokeWidth":1},
 "font":"Liberation Sans",
 "title":{"font":"Liberation Sans","fontSize":25,"fontWeight":"bold","color":"#000000","anchor":"middle","lineHeight":32,"baseline":"bottom","offset":6,"frame":"group"},
 "axis":{"grid":true,"gridColor":"#dfdfdf","gridWidth":1,"domain":false,"ticks":false,"labelFont":"Liberation Sans","labelFontSize":22,"labelColor":"#262626","labelFlush":false,"labelOverlap":false,"labelExpr":"replace(datum.label, '\u2212', '-')"},
 "axisX":{"labelPadding":12,"titleFont":"Liberation Sans","titleFontSize":22,"titleFontWeight":"normal","titleColor":"#262626","titleY":61,"titleBaseline":"alphabetic"},
 "axisY":{"labelPadding":9,"format":".2~f","titleFont":"Liberation Serif","titleFontStyle":"italic","titleFontWeight":"normal","titleFontSize":25,"titleColor":"#404040","titleBaseline":"middle"}
}
}
